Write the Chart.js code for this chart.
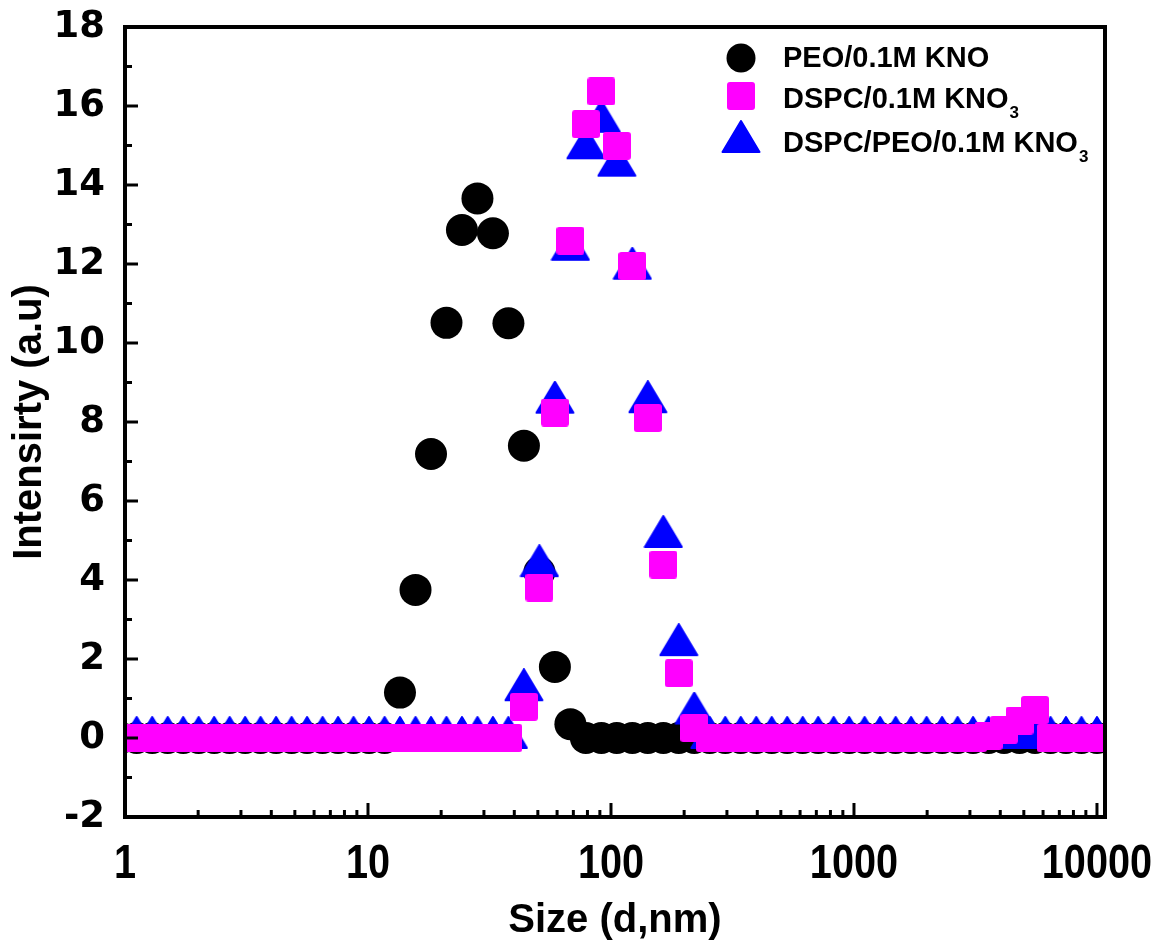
<!DOCTYPE html>
<html><head><meta charset="utf-8">
<script src="https://cdn.jsdelivr.net/npm/chart.js@4/dist/chart.umd.min.js"></script>
<style>html,body{margin:0;padding:0;background:#fff;} #wrap{width:1157px;height:945px;position:relative;}</style>
</head><body><div id="wrap"><canvas id="c" width="1157" height="945"></canvas></div>
<script>
// Size bins (d, nm)
const sizes = [0.9649, 1.117, 1.294, 1.499, 1.736, 2.010, 2.328, 2.696, 3.122, 3.615,
  4.187, 4.849, 5.615, 6.503, 7.531, 8.721, 10.10, 11.70, 13.54, 15.69,
  18.17, 21.04, 24.36, 28.21, 32.67, 37.84, 43.82, 50.75, 58.77, 68.06,
  78.82, 91.28, 105.7, 122.4, 141.8, 164.2, 190.1, 220.2, 255.0, 295.3,
  342.0, 396.1, 458.7, 531.2, 615.1, 712.4, 825.0, 955.4, 1106, 1281,
  1484, 1718, 1990, 2305, 2669, 3091, 3580, 4145, 4801, 5560,
  6439, 7456, 8635, 10000];
// Intensity, PEO/0.1M KNO
const peo = [0, 0, 0, 0, 0, 0, 0, 0, 0, 0,
  0, 0, 0, 0, 0, 0, 0, 0, 1.15, 3.75,
  7.19, 10.51, 12.86, 13.66, 12.78, 10.5, 7.4, 4.2, 1.8, 0.35,
  0, 0, 0, 0, 0, 0, 0, 0, 0, 0,
  0, 0, 0, 0, 0, 0, 0, 0, 0, 0,
  0, 0, 0, 0, 0, 0, 0, 0, 0, 0,
  0, 0, 0, 0];
// Intensity, DSPC/0.1M KNO3
const dspc = [0, 0, 0, 0, 0, 0, 0, 0, 0, 0,
  0, 0, 0, 0, 0, 0, 0, 0, 0, 0,
  0, 0, 0, 0, 0, 0, 0.79, 3.81, 8.24, 12.59,
  15.54, 16.37, 14.99, 11.95, 8.1, 4.39, 1.64, 0.25, 0, 0,
  0, 0, 0, 0, 0, 0, 0, 0, 0, 0,
  0, 0, 0, 0, 0, 0, 0.06, 0.21, 0.44, 0.71,
  0, 0, 0, 0];
// Intensity, DSPC/PEO/0.1M KNO3
const dspcPeo = [0, 0, 0, 0, 0, 0, 0, 0, 0, 0,
  0, 0, 0, 0, 0, 0, 0, 0, 0, 0,
  0, 0, 0, 0, 0, 0, 1.21, 4.35, 8.49, 12.36,
  14.93, 15.6, 14.49, 11.88, 8.5, 5.09, 2.35, 0.62, 0, 0,
  0, 0, 0, 0, 0, 0, 0, 0, 0, 0,
  0, 0, 0, 0, 0, 0, 0, 0, 0, 0,
  0, 0, 0, 0];

const seriesNames = ['PEO/0.1M KNO', 'DSPC/0.1M KNO', 'DSPC/PEO/0.1M KNO'];
const seriesSubs = ['', '3', '3'];
const xTickLabels = [1, 10, 100, 1000, 10000];
const xMinorTicks = [2,3,4,5,6,7,8,9, 20,30,40,50,60,70,80,90, 200,300,400,500,600,700,800,900,
  2000,3000,4000,5000,6000,7000,8000,9000];
const yTickValues = [-2, 0, 2, 4, 6, 8, 10, 12, 14, 16, 18];
const yMinorTicks = [-1, 1, 3, 5, 7, 9, 11, 13, 15, 17];

const BLACK = '#000000', MAGENTA = '#ff00ff', BLUE = '#0000ff';

function makeSquare(color, s, r) {
  const c = document.createElement('canvas'); c.width = s; c.height = s;
  const g = c.getContext('2d'); g.fillStyle = color;
  g.beginPath();
  g.moveTo(r, 0); g.lineTo(s - r, 0); g.quadraticCurveTo(s, 0, s, r);
  g.lineTo(s, s - r); g.quadraticCurveTo(s, s, s - r, s);
  g.lineTo(r, s); g.quadraticCurveTo(0, s, 0, s - r);
  g.lineTo(0, r); g.quadraticCurveTo(0, 0, r, 0);
  g.closePath(); g.fill();
  return c;
}
function makeTriangle(color) {
  const c = document.createElement('canvas'); c.width = 40; c.height = 44;
  const g = c.getContext('2d'); g.fillStyle = color; g.strokeStyle = color;
  g.lineJoin = 'round'; g.lineWidth = 2;
  g.beginPath(); g.moveTo(20, 1); g.lineTo(38.5, 32); g.lineTo(1.5, 32); g.closePath();
  g.fill(); g.stroke();
  return c;
}
const squareImg = makeSquare(MAGENTA, 28, 3);
const triImg = makeTriangle(BLUE);

const clipOpt = {left: 0, right: 2, top: false, bottom: false};
const toPts = arr => sizes.map((x, i) => ({x: x, y: arr[i]}));

const axisPlugin = {
  id: 'axisFrame',
  afterDatasetsDraw(chart) {
    const {ctx, chartArea: a, scales: {x, y}} = chart;
    ctx.save();
    ctx.strokeStyle = BLACK; ctx.lineWidth = 3; ctx.lineCap = 'butt';
    const seg = (x1, y1, x2, y2) => { ctx.beginPath(); ctx.moveTo(x1, y1); ctx.lineTo(x2, y2); ctx.stroke(); };
    yTickValues.forEach(v => { const py = y.getPixelForValue(v); seg(a.left, py, a.left + 13, py); });
    yMinorTicks.forEach(v => { const py = y.getPixelForValue(v); seg(a.left, py, a.left + 7, py); });
    xTickLabels.forEach(v => { const px = x.getPixelForValue(v); seg(px, a.bottom, px, a.bottom - 14); });
    xMinorTicks.forEach(v => { const px = x.getPixelForValue(v); seg(px, a.bottom, px, a.bottom - 7); });
    ctx.lineWidth = 4;
    ctx.strokeRect(a.left, a.top, a.right - a.left, a.bottom - a.top);
    // x tick labels (condensed bold)
    ctx.fillStyle = BLACK;
    ctx.font = 'bold 49px "Liberation Sans", Arial, sans-serif';
    ctx.textAlign = 'center'; ctx.textBaseline = 'alphabetic';
    xTickLabels.forEach(v => {
      const px = x.getPixelForValue(v);
      ctx.save(); ctx.translate(px, 878); ctx.scale(0.81, 1);
      ctx.fillText(String(v), 0, 0); ctx.restore();
    });
    ctx.restore();
  },
  afterDraw(chart) {
    const ctx = chart.ctx;
    const markerX = 741, textX = 783;
    const markerY = [58, 96, 142];
    const baseY = [67, 107.5, 152];
    ctx.save();
    chart.data.datasets.forEach((ds, i) => {
      const st = ds.pointStyle;
      if (st === 'circle') {
        ctx.fillStyle = ds.backgroundColor;
        ctx.beginPath(); ctx.arc(markerX, markerY[i], 14.5, 0, Math.PI * 2); ctx.fill();
      } else {
        ctx.drawImage(st, markerX - st.width / 2, markerY[i] - st.height / 2);
      }
      ctx.fillStyle = BLACK;
      ctx.textAlign = 'left'; ctx.textBaseline = 'alphabetic';
      ctx.font = 'bold 29px "Liberation Sans", Arial, sans-serif';
      ctx.fillText(seriesNames[i], textX, baseY[i]);
      if (seriesSubs[i]) {
        const w = ctx.measureText(seriesNames[i]).width;
        ctx.font = 'bold 17px "Liberation Sans", Arial, sans-serif';
        ctx.fillText(seriesSubs[i], textX + w + 1, baseY[i] + 10);
      }
    });
    ctx.restore();
  }
};

new Chart(document.getElementById('c'), {
  type: 'scatter',
  data: {
    datasets: [
      {label: seriesNames[0], data: toPts(peo), pointStyle: 'circle', pointRadius: 16,
        backgroundColor: BLACK, borderColor: BLACK, borderWidth: 0, order: 3, clip: clipOpt},
      {label: seriesNames[1] + '3', data: toPts(dspc), pointStyle: squareImg, pointRadius: 14,
        backgroundColor: MAGENTA, borderColor: MAGENTA, borderWidth: 0, order: 1, clip: clipOpt},
      {label: seriesNames[2] + '3', data: toPts(dspcPeo), pointStyle: triImg, pointRadius: 20,
        backgroundColor: BLUE, borderColor: BLUE, borderWidth: 0, order: 2, clip: clipOpt}
    ]
  },
  options: {
    responsive: false, animation: false, events: [], devicePixelRatio: 1,
    layout: {padding: {left: 0, right: 52, top: 27, bottom: 0}},
    plugins: {legend: {display: false}, tooltip: {enabled: false}},
    scales: {
      x: {
        type: 'logarithmic', min: 1, max: 10790,
        afterBuildTicks: s => { s.ticks = xTickLabels.map(v => ({value: v, major: true})); },
        ticks: {display: false},
        grid: {display: false, drawTicks: false},
        border: {display: false},
        title: {display: true, text: 'Size (d,nm)', color: BLACK,
          font: {family: '"Liberation Sans", Arial, sans-serif', weight: 'bold', size: 40},
          padding: {top: 0, bottom: 0}},
        afterFit: s => { s.height = 128; }
      },
      y: {
        type: 'linear', min: -2, max: 18,
        afterBuildTicks: s => { s.ticks = yTickValues.map(v => ({value: v})); },
        ticks: {color: BLACK, padding: 0,
          font: {family: '"DejaVu Sans", sans-serif', weight: 'bold', size: 37}},
        grid: {display: false, drawTicks: true, tickLength: 20},
        border: {display: false},
        title: {display: true, text: 'Intensirty (a.u)', color: BLACK,
          font: {family: '"Liberation Sans", Arial, sans-serif', weight: 'bold', size: 40},
          padding: {top: 6, bottom: 0}},
        afterFit: s => { s.width = 125; }
      }
    }
  },
  plugins: [axisPlugin]
});
</script>
</body></html>
